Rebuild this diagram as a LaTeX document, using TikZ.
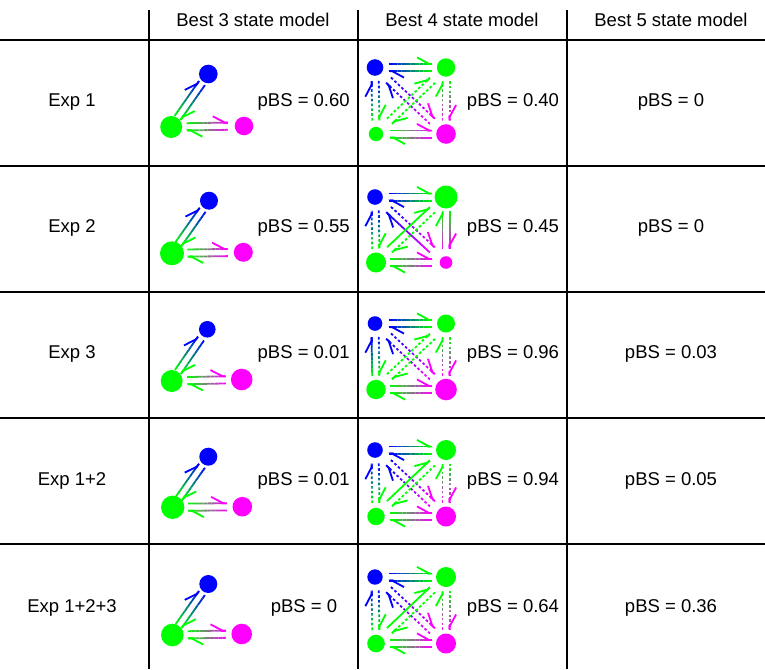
\documentclass[tikz,border=0pt]{standalone}
\usepackage{fontspec}
\setmainfont{Liberation Sans}
\usetikzlibrary{calc,arrows.meta}

\definecolor{sblue}{RGB}{0,0,255}
\definecolor{sgreen}{RGB}{0,255,0}
\definecolor{smag}{RGB}{255,0,255}

\tikzset{
  rule/.style={line width=2pt},
  lbl/.style={font=\fontsize{18.5}{22}\selectfont, inner sep=0pt},
  st/.style={circle, inner sep=0pt, minimum size=#1},
  flw/.style={line width=1.8pt},
  dsh/.style={dash pattern=on 2.6pt off 2.2pt},
}

% gradient harpoon from #1 to #2 (colours #3 -> #4), gap #5, line style #6
\newcommand\flux[6]{%
  \coordinate (p0) at ($(#1)!#5!(#2)$);
  \coordinate (p1) at ($(#2)!#5!(#1)$);
  \coordinate (s) at ($(p0)!3.6pt!90:(p1)$);
  \coordinate (e) at ($(p1)!3.6pt!-90:(p0)$);
  \foreach \k in {0,...,9}{
    \pgfmathtruncatemacro\mix{10*\k+5}
    \begin{scope}
      \coordinate (u) at ($(s)!\k/10!(e)$);
      \coordinate (v) at ($(s)!{(\k+1)/10}!(e)$);
      \clip ($(u)!4pt!90:(v)$) -- ($(u)!4pt!-90:(v)$) -- ($(v)!4pt!90:(u)$) -- ($(v)!4pt!-90:(u)$) -- cycle;
      \draw[flw, #6, draw=#4!\mix!#3] (s) -- (e);
    \end{scope}
  }
  \draw[flw, #4, -{Straight Barb[harpoon, length=12pt, width=13pt]}] ($(s)!0.97!(e)$) -- (e);
}
% both directions between two states
\newcommand\pair[7]{\flux{#1}{#2}{#3}{#4}{#5}{#6}\flux{#2}{#1}{#4}{#3}{#5}{#7}}

\begin{document}
\begin{tikzpicture}[x=1pt, y=-1pt]
\useasboundingbox (0,0) rectangle (765,669);

% table
\draw[rule] (0,40) -- (765,40);
\draw[rule] (0,166) -- (765,166);
\draw[rule] (0,292) -- (765,292);
\draw[rule] (0,418) -- (765,418);
\draw[rule] (0,544) -- (765,544);
\draw[rule] (149,10) -- (149,669);
\draw[rule] (358,10) -- (358,669);
\draw[rule] (567,10) -- (567,669);

\node[lbl] (h3) at (253,20) {Best 3 state model};
\node[lbl] (h4) at (462,20) {Best 4 state model};
\node[lbl] (h5) at (671,20) {Best 5 state model};

\node[lbl] (e1) at (72,102) {Exp 1};
\node[lbl] (e2) at (72,228) {Exp 2};
\node[lbl] (e3) at (72,354) {Exp 3};
\node[lbl] (e4) at (72,481) {Exp 1+2};
\node[lbl] (e5) at (72,608) {Exp 1+2+3};

% 3 state models
\node[st=18.6pt, fill=sblue] (r1a) at (208.3,74) {};
\node[st=22pt, fill=sgreen] (r1b) at (171.2,127) {};
\node[st=18.6pt, fill=smag] (r1c) at (244,126) {};
\node[st=18pt, fill=sblue] (r2a) at (209,200.7) {};
\node[st=24pt, fill=sgreen] (r2b) at (172,253.3) {};
\node[st=19pt, fill=smag] (r2c) at (243.3,252.3) {};
\node[st=16.6pt, fill=sblue] (r3a) at (207.3,329.3) {};
\node[st=22pt, fill=sgreen] (r3b) at (171.7,381) {};
\node[st=21.6pt, fill=smag] (r3c) at (241.7,379.5) {};
\node[st=18pt, fill=sblue] (r4a) at (208.3,456.7) {};
\node[st=23.4pt, fill=sgreen] (r4b) at (172.7,507.3) {};
\node[st=19.6pt, fill=smag] (r4c) at (242.3,506.7) {};
\node[st=18pt, fill=sblue] (r5a) at (208.3,584) {};
\node[st=22.6pt, fill=sgreen] (r5b) at (172.3,635) {};
\node[st=20.6pt, fill=smag] (r5c) at (241.7,634) {};

\pair{r1b}{r1a}{sgreen}{sblue}{11pt}{solid}{solid}
\pair{r1b}{r1c}{sgreen}{smag}{15.5pt}{solid}{solid}
\pair{r2b}{r2a}{sgreen}{sblue}{11pt}{solid}{solid}
\pair{r2b}{r2c}{sgreen}{smag}{15.5pt}{solid}{solid}
\pair{r3b}{r3a}{sgreen}{sblue}{11pt}{solid}{solid}
\pair{r3b}{r3c}{sgreen}{smag}{15.5pt}{solid}{solid}
\pair{r4b}{r4a}{sgreen}{sblue}{11pt}{solid}{solid}
\pair{r4b}{r4c}{sgreen}{smag}{15.5pt}{solid}{solid}
\pair{r5b}{r5a}{sgreen}{sblue}{11pt}{solid}{solid}
\pair{r5b}{r5c}{sgreen}{smag}{15.5pt}{solid}{solid}

% 4 state models
\node[st=16.6pt, fill=sblue] (q1a) at (375,67.5) {};
\node[st=18.4pt, fill=sgreen] (q1b) at (446,67.5) {};
\node[st=14.4pt, fill=sgreen] (q1c) at (376,134) {};
\node[st=19.6pt, fill=smag] (q1d) at (446,134) {};
\node[st=15.6pt, fill=sblue] (q2a) at (375,197) {};
\node[st=23pt, fill=sgreen] (q2b) at (446,197) {};
\node[st=20pt, fill=sgreen] (q2c) at (376,262.5) {};
\node[st=12.6pt, fill=smag] (q2d) at (446,262.5) {};
\node[st=14.6pt, fill=sblue] (q3a) at (375,323.5) {};
\node[st=18pt, fill=sgreen] (q3b) at (446,323.5) {};
\node[st=19.4pt, fill=sgreen] (q3c) at (376,389.5) {};
\node[st=21.6pt, fill=smag] (q3d) at (446,389.5) {};
\node[st=15.6pt, fill=sblue] (q4a) at (375,450) {};
\node[st=20pt, fill=sgreen] (q4b) at (446,450) {};
\node[st=17.4pt, fill=sgreen] (q4c) at (376,516.5) {};
\node[st=20pt, fill=smag] (q4d) at (446,516.5) {};
\node[st=15.4pt, fill=sblue] (q5a) at (375,577) {};
\node[st=20pt, fill=sgreen] (q5b) at (446,577) {};
\node[st=17.6pt, fill=sgreen] (q5c) at (376,643.5) {};
\node[st=20pt, fill=smag] (q5d) at (446,643.5) {};

\pair{q1a}{q1b}{sblue}{sgreen}{13.5pt}{solid}{solid}
\pair{q1c}{q1d}{sgreen}{smag}{13.5pt}{solid}{solid}
\pair{q1a}{q1c}{sblue}{sgreen}{13.5pt}{dsh}{dsh}
\pair{q1b}{q1d}{sgreen}{smag}{13.5pt}{dsh}{dsh}
\pair{q1a}{q1d}{sblue}{smag}{18.5pt}{dsh}{dsh}
\pair{q1c}{q1b}{sgreen}{sgreen}{18.5pt}{dsh}{dsh}

\pair{q2a}{q2b}{sblue}{sgreen}{13.5pt}{solid}{solid}
\pair{q2c}{q2d}{sgreen}{smag}{13.5pt}{solid}{solid}
\pair{q2a}{q2c}{sblue}{sgreen}{13.5pt}{dsh}{dsh}
\pair{q2b}{q2d}{sgreen}{smag}{13.5pt}{solid}{solid}
\pair{q2a}{q2d}{sblue}{smag}{18.5pt}{dsh}{solid}
\pair{q2c}{q2b}{sgreen}{sgreen}{18.5pt}{solid}{dsh}

\pair{q3a}{q3b}{sblue}{sgreen}{13.5pt}{solid}{solid}
\pair{q3c}{q3d}{sgreen}{smag}{13.5pt}{solid}{solid}
\pair{q3a}{q3c}{sblue}{sgreen}{13.5pt}{dsh}{solid}
\pair{q3b}{q3d}{sgreen}{smag}{13.5pt}{dsh}{dsh}
\pair{q3a}{q3d}{sblue}{smag}{18.5pt}{dsh}{dsh}
\pair{q3c}{q3b}{sgreen}{sgreen}{18.5pt}{dsh}{dsh}

\pair{q4a}{q4b}{sblue}{sgreen}{13.5pt}{solid}{solid}
\pair{q4c}{q4d}{sgreen}{smag}{13.5pt}{solid}{solid}
\pair{q4a}{q4c}{sblue}{sgreen}{13.5pt}{dsh}{dsh}
\pair{q4b}{q4d}{sgreen}{smag}{13.5pt}{dsh}{dsh}
\pair{q4a}{q4d}{sblue}{smag}{18.5pt}{dsh}{dsh}
\pair{q4c}{q4b}{sgreen}{sgreen}{18.5pt}{solid}{dsh}

\pair{q5a}{q5b}{sblue}{sgreen}{13.5pt}{solid}{solid}
\pair{q5c}{q5d}{sgreen}{smag}{13.5pt}{solid}{solid}
\pair{q5a}{q5c}{sblue}{sgreen}{13.5pt}{dsh}{dsh}
\pair{q5b}{q5d}{sgreen}{smag}{13.5pt}{dsh}{dsh}
\pair{q5a}{q5d}{sblue}{smag}{18.5pt}{dsh}{dsh}
\pair{q5c}{q5b}{sgreen}{sgreen}{18.5pt}{solid}{dsh}

% probabilities
\node[lbl] (p13) at (303.7,102) {pBS = 0.60};
\node[lbl] (p14) at (513,102) {pBS = 0.40};
\node[lbl] (p15) at (671,102) {pBS = 0};
\node[lbl] (p23) at (303.7,228) {pBS = 0.55};
\node[lbl] (p24) at (513,228) {pBS = 0.45};
\node[lbl] (p25) at (671,228) {pBS = 0};
\node[lbl] (p33) at (303.7,354) {pBS = 0.01};
\node[lbl] (p34) at (513,354) {pBS = 0.96};
\node[lbl] (p35) at (671,354) {pBS = 0.03};
\node[lbl] (p43) at (303.7,481) {pBS = 0.01};
\node[lbl] (p44) at (513,481) {pBS = 0.94};
\node[lbl] (p45) at (671,481) {pBS = 0.05};
\node[lbl] (p53) at (304,608) {pBS = 0};
\node[lbl] (p54) at (513,608) {pBS = 0.64};
\node[lbl] (p55) at (671,608) {pBS = 0.36};

\end{tikzpicture}
\end{document}
